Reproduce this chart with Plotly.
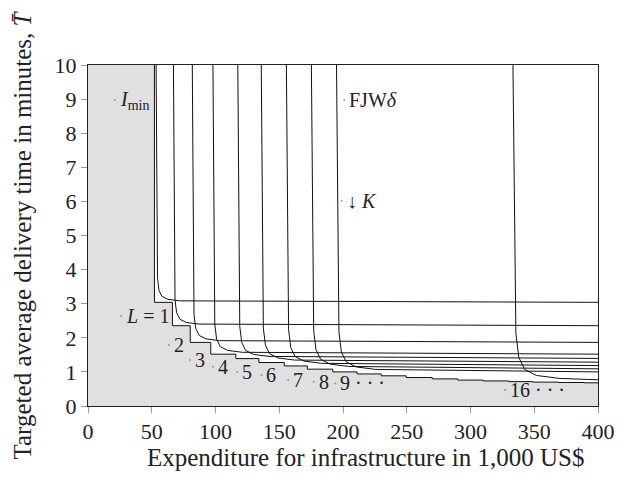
import plotly.graph_objects as go

# ---------------- data ----------------
# staircase (lower envelope, boundary of the grey region)
stair_x = [52.1, 66.2, 80.2, 96.3, 116.0, 134.0, 154.0, 172.0, 192.0, 211.0,
           230.0, 249.5, 270.0, 290.0, 310.0, 330.0, 349.0, 369.0, 389.0]
stair_y = [3.04, 2.355, 1.865, 1.52, 1.39, 1.275, 1.175, 1.08, 1.00, 0.94,
           0.885, 0.835, 0.795, 0.76, 0.735, 0.715, 0.70, 0.69, 0.68]

# FJW-delta curves for L = 1..9 and 16
curve_names = ["L1", "L2", "L3", "L4", "L5", "L6", "L7", "L8", "L9", "L16"]
curve_x = [
    [53.4, 54.55, 55.7, 58.0, 62.6, 71.8, 400],
    [67.0, 68.25, 69.49, 71.98, 76.96, 86.92, 400],
    [81.8, 83.14, 84.48, 87.16, 92.53, 103.26, 400],
    [98.0, 99.44, 100.87, 103.75, 109.49, 120.99, 400],
    [117.5, 119.03, 120.57, 123.63, 129.76, 142.02, 400],
    [135.9, 137.53, 139.16, 142.41, 148.93, 161.95, 400],
    [155.6, 157.32, 159.05, 162.5, 169.39, 183.19, 400],
    [175.2, 177.02, 178.84, 182.48, 189.76, 204.32, 400],
    [194.9, 196.82, 198.73, 202.56, 210.23, 225.55, 400],
    [333.3, 335.6, 337.9, 342.5, 351.69, 370.08, 400],
]
curve_y = [
    [10, 3.74, 3.39, 3.216, 3.128, 3.084, 3.04],
    [10, 3.117, 2.736, 2.546, 2.45, 2.403, 2.355],
    [10, 2.686, 2.276, 2.07, 1.968, 1.916, 1.865],
    [10, 2.40, 1.96, 1.74, 1.63, 1.575, 1.52],
    [10, 2.333, 1.864, 1.63, 1.512, 1.454, 1.395],
    [10, 2.282, 1.784, 1.534, 1.41, 1.347, 1.285],
    [10, 2.241, 1.713, 1.449, 1.317, 1.251, 1.185],
    [10, 2.204, 1.647, 1.369, 1.229, 1.16, 1.09],
    [10, 2.173, 1.587, 1.293, 1.147, 1.073, 1.00],
    [10, 2.128, 1.424, 1.072, 0.896, 0.808, 0.768],
]

# text labels, anchored at small dots drawn just left of each label
label_text = ["<i>I</i><sub>min</sub>", "FJW<i>δ</i>", "↓ <i>K</i>", "<i>L</i> = 1",
              "2", "3", "4", "5", "6", "7", "8", "9 · · ·", "16 · · ·"]
label_x = [21.0, 201.0, 199.0, 26.0, 63.5, 80.0, 98.0, 117.0, 136.0, 157.0, 177.0, 194.0, 327.0]
label_y = [8.97, 8.97, 6.02, 2.64, 1.79, 1.35, 1.15, 1.00, 0.91, 0.76, 0.71, 0.66, 0.47]

x_ticks = [0, 50, 100, 150, 200, 250, 300, 350, 400]
y_ticks = [0, 1, 2, 3, 4, 5, 6, 7, 8, 9, 10]

# ---------------- figure ----------------
FONT = "Liberation Serif"
fig = go.Figure()

# grey region bounded by the staircase
reg_x = [0, 0, stair_x[0]]
reg_y = [0, 10, 10]
for i, (sx, sy) in enumerate(zip(stair_x, stair_y)):
    if i > 0:
        reg_x.append(sx)
        reg_y.append(stair_y[i - 1])
    reg_x.append(sx)
    reg_y.append(sy)
reg_x += [400, 400]
reg_y += [stair_y[-1], 0]
fig.add_trace(go.Scatter(x=reg_x, y=reg_y, fill="toself", fillcolor="#e0e0e0",
                         mode="none", hoverinfo="skip", showlegend=False))
# staircase outline
fig.add_trace(go.Scatter(x=reg_x[2:-1], y=reg_y[2:-1], mode="lines",
                         line=dict(color="#111", width=1), showlegend=False))

for name, xs, ys in zip(curve_names, curve_x, curve_y):
    fig.add_trace(go.Scatter(x=xs, y=ys, mode="lines", name=name,
                             line=dict(color="#111", width=1), showlegend=False))

# label anchor dots
fig.add_trace(go.Scatter(x=label_x, y=label_y, mode="markers",
                         marker=dict(size=2, color="#999"), hoverinfo="skip",
                         showlegend=False))
for t, x, y in zip(label_text, label_x, label_y):
    fig.add_annotation(x=x, y=y, text=t, showarrow=False, xanchor="left", xshift=3,
                       yanchor="middle", font=dict(family=FONT, size=20, color="#222"))

# axis titles
fig.add_annotation(xref="paper", yref="paper", x=0.544, y=0, yshift=-51,
                   text="Expenditure for infrastructure in 1,000 US$", showarrow=False,
                   xanchor="center", yanchor="middle",
                   font=dict(family=FONT, size=25, color="#222"))
fig.add_annotation(xref="paper", yref="paper", x=0, y=0.5, xshift=-66,
                   text="Targeted average delivery time in minutes, <i>T̄</i>",
                   showarrow=False, textangle=-90, xanchor="center", yanchor="middle",
                   font=dict(family=FONT, size=25, color="#222"))

axis_common = dict(showgrid=False, zeroline=False, showline=True, linecolor="#222",
                   linewidth=1, mirror=True, ticks="outside", ticklen=6,
                   tickcolor="#999", tickfont=dict(family=FONT, size=22, color="#222"))
fig.update_xaxes(range=[0, 400], tickvals=x_ticks, **axis_common)
fig.update_yaxes(range=[0, 10], tickvals=y_ticks, **axis_common)

fig.update_layout(width=627, height=480, margin=dict(l=88, r=17, t=65, b=74),
                  plot_bgcolor="white", paper_bgcolor="white", showlegend=False)

fig.write_html("out.html")
